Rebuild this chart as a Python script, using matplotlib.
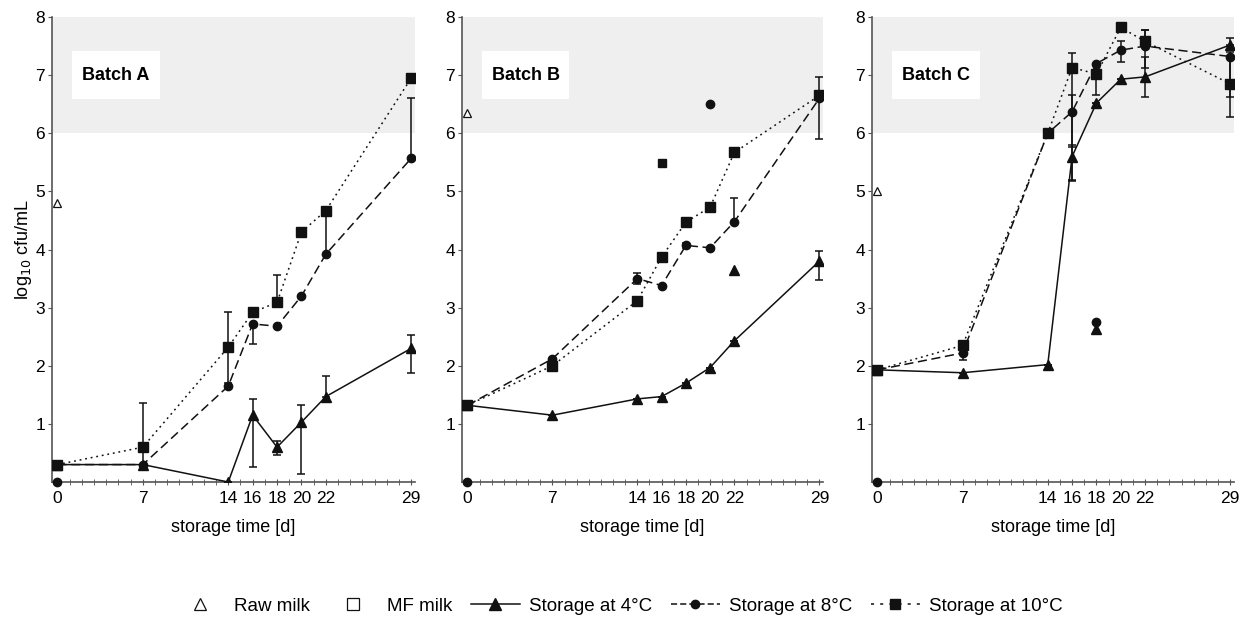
import numpy as np
import matplotlib.pyplot as plt
from matplotlib.lines import Line2D
from matplotlib.patches import Rectangle

plt.rcParams['font.family'] = ['Liberation Sans', 'DejaVu Sans']

# storage days
days = [0, 7, 14, 16, 18, 20, 22, 29]
day_labels = ['0', '7', '14', '16', '18', '20', '22', '29']
batches = ['Batch A', 'Batch B', 'Batch C']

# raw milk value (day 0)
raw_milk = [4.80, 6.35, 5.00]

# Batch A
a_4c = [0.30, 0.30, 0.00, 1.15, 0.60, 1.03, 1.47, 2.30]
a_4c_lo = [0, 0, 0, 0.90, 0.13, 0.90, 0, 0.43]
a_4c_hi = [0, 0, 0, 0.28, 0.10, 0.29, 0.35, 0.23]
a_8c = [0.30, 0.30, 1.65, 2.72, 2.68, 3.20, 3.92, 5.57]
a_8c_lo = [0, 0, 0, 0.34, 0, 0, 0, 0]
a_8c_hi = [0, 0, 0, 0, 0, 0, 0.75, 1.03]
a_10c = [0.30, 0.60, 2.32, 2.92, 3.09, 4.30, 4.67, 6.95]
a_10c_lo = [0, 0.30, 0.61, 0, 0, 0, 0, 0]
a_10c_hi = [0, 0.76, 0.61, 0, 0.47, 0, 0, 0]

# Batch B
b_4c = [1.32, 1.15, 1.43, 1.47, 1.70, 1.97, 2.43, 3.80]
b_4c_lo = [0, 0, 0, 0, 0, 0, 0, 0.33]
b_4c_hi = [0, 0, 0, 0, 0, 0, 0, 0.18]
b_8c = [1.32, 2.12, 3.50, 3.38, 4.07, 4.03, 4.48, 6.60]
b_8c_lo = [0, 0, 0.10, 0, 0.05, 0, 0, 0]
b_8c_hi = [0, 0, 0.10, 0, 0.05, 0, 0.40, 0]
b_10c = [1.32, 2.00, 3.12, 3.87, 4.47, 4.73, 5.67, 6.65]
b_10c_lo = [0, 0, 0, 0, 0, 0, 0, 0.75]
b_10c_hi = [0, 0, 0, 0, 0, 0, 0, 0.32]

# Batch C
c_4c = [1.93, 1.88, 2.02, 5.60, 6.52, 6.93, 6.97, 7.52]
c_4c_lo = [0, 0, 0, 0.40, 0, 0, 0.35, 0]
c_4c_hi = [0, 0, 0, 0.20, 0, 0, 0.35, 0.12]
c_8c = [1.93, 2.22, 6.00, 6.37, 7.20, 7.43, 7.50, 7.32]
c_8c_lo = [0, 0.12, 0, 0.60, 0, 0.20, 0, 0.70]
c_8c_hi = [0, 0, 0, 0.28, 0, 0.15, 0.27, 0]
c_10c = [1.93, 2.35, 6.00, 7.13, 7.02, 7.82, 7.58, 6.85]
c_10c_lo = [0, 0, 0, 1.95, 0.37, 0, 0.45, 0.57]
c_10c_hi = [0, 0, 0, 0.25, 0, 0, 0.20, 0.55]

# single points not connected to the curves (x, y, marker)
stray_a = [(0, 0.0, 'o')]
stray_b = [(0, 0.0, 'o'), (16, 5.48, 's'), (20, 6.50, 'o'), (22, 3.64, '^')]
stray_c = [(0, 0.0, 'o'), (18, 2.63, '^'), (18, 2.75, 'o')]

series = [
    [(a_4c, a_4c_lo, a_4c_hi), (a_8c, a_8c_lo, a_8c_hi), (a_10c, a_10c_lo, a_10c_hi)],
    [(b_4c, b_4c_lo, b_4c_hi), (b_8c, b_8c_lo, b_8c_hi), (b_10c, b_10c_lo, b_10c_hi)],
    [(c_4c, c_4c_lo, c_4c_hi), (c_8c, c_8c_lo, c_8c_hi), (c_10c, c_10c_lo, c_10c_hi)],
]
strays = [stray_a, stray_b, stray_c]

styles = [
    dict(marker='^', linestyle='-', ms=7.5),
    dict(marker='o', linestyle=(0, (6, 3)), ms=6),
    dict(marker='s', linestyle=(0, (1.2, 2.5)), ms=7),
]
ink = '#111111'

fig = plt.figure(figsize=(12.46, 6.21), dpi=100)
lefts = [0.0417, 0.3708, 0.6998]
widths = [0.2913, 0.2897, 0.2905]

for k in range(3):
    ax = fig.add_axes([lefts[k], 0.2238, widths[k], 0.7488])
    ax.set_xlim(-0.45, 29.3)
    ax.set_ylim(0, 8)
    ax.axhspan(6, 8, color='#efefef', zorder=0, lw=0)
    ax.add_patch(Rectangle((1.2, 6.59), 7.2, 0.82, facecolor='white',
                           edgecolor='none', zorder=1))
    ax.text(4.8, 7.0, batches[k], ha='center', va='center',
            fontsize=13, fontweight='bold', zorder=2)

    for (vals, lo, hi), st in zip(series[k], styles):
        ax.plot(days, vals, color=ink, lw=1.1, marker=st['marker'],
                ms=st['ms'], linestyle=st['linestyle'], zorder=4)
        ax.errorbar(days, vals, yerr=[lo, hi], fmt='none', ecolor=ink,
                    elinewidth=1.1, capsize=3, capthick=1.1, zorder=3)

    for x, y, m in strays[k]:
        ax.plot(x, y, marker=m, color=ink, ms=6 if m != '^' else 7,
                linestyle='none', zorder=5, clip_on=False)

    ax.plot(0, raw_milk[k], marker='^', mfc='white', mec=ink, ms=6,
            mew=0.9, linestyle='none', zorder=5)

    for s in ['top', 'right']:
        ax.spines[s].set_visible(False)
    for s in ['left', 'bottom']:
        ax.spines[s].set_color('#555555')
        ax.spines[s].set_linewidth(1.2)

    ax.set_xticks(days)
    ax.set_xticklabels(day_labels)
    ax.set_xticks(np.arange(0, 30), minor=True)
    ax.tick_params(axis='x', which='both', direction='inout', length=5,
                   color='#555555', labelsize=12.5, pad=4)
    ax.set_yticks(np.arange(1, 9))
    ax.set_yticklabels([str(v) for v in range(1, 9)])
    ax.tick_params(axis='y', direction='out', length=3, color='#555555',
                   labelsize=12.5, pad=2)
    ax.set_xlabel('storage time [d]', fontsize=13, labelpad=9)
    if k == 0:
        ax.set_ylabel('log$_{10}$ cfu/mL', fontsize=13, labelpad=1)

handles = [
    Line2D([], [], marker='^', mfc='white', mec=ink, ms=8, mew=0.9, linestyle='none'),
    Line2D([], [], marker='s', mfc='white', mec=ink, ms=9, mew=0.9, linestyle='none'),
    Line2D([], [], marker='^', color=ink, ms=8, lw=1.1, linestyle='-'),
    Line2D([], [], marker='o', color=ink, ms=6, lw=1.1, linestyle=(0, (4, 2))),
    Line2D([], [], marker='s', color=ink, ms=7, lw=1.1, linestyle=(0, (2, 4))),
]
labels = ['Raw milk', 'MF milk', 'Storage at 4°C', 'Storage at 8°C', 'Storage at 10°C']
fig.legend(handles, labels, loc='center', bbox_to_anchor=(0.497, 0.024), ncol=5,
           frameon=False, fontsize=13.5, handlelength=2.6, columnspacing=1.0,
           handletextpad=0.5)

fig.savefig('out.png', dpi=100)
